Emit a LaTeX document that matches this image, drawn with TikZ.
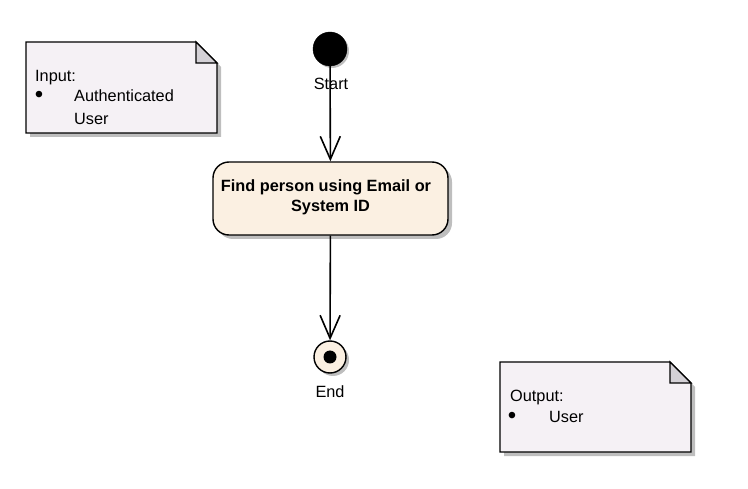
\documentclass[tikz,border=0pt]{standalone}
\usepackage{fontspec}
\setmainfont{Liberation Sans}
\usetikzlibrary{arrows.meta}
\definecolor{notefill}{HTML}{F5F1F5}
\definecolor{foldfill}{HTML}{D4D1D6}
\definecolor{actfill}{HTML}{FBF0E2}
\definecolor{shadowc}{HTML}{BEBEBE}
\tikzset{
  txt/.style={inner sep=0pt, font=\fontsize{16.3}{20}\selectfont, text=black},
  bullettxt/.style={inner sep=0pt, font=\fontsize{24}{24}\selectfont, text=black},
  boldtxt/.style={inner sep=0pt, font=\fontsize{16.3}{20}\selectfont\bfseries, align=center, text=black},
  conn/.style={line width=1.6pt, -{Straight Barb[length=23pt,width=20pt,line width=1.6pt]}},
  outline/.style={draw=black, line width=1.4pt},
}
\begin{document}
\begin{tikzpicture}[x=1pt,y=-1pt]
\useasboundingbox (0,0) rectangle (748,489);
% ---------- Input note ----------
\fill[shadowc] (30,46) -- (200,46) -- (221,67) -- (221,137) -- (30,137) -- cycle;
\filldraw[fill=notefill, outline] (26,42) -- (196,42) -- (217,63) -- (217,133) -- (26,133) -- cycle;
\filldraw[fill=foldfill, outline] (196,42) -- (196,63) -- (217,63) -- cycle;
\node[txt, anchor=base west] (inlab) at (35,82) {Input:};
\node[bullettxt, anchor=center] (inbul) at (39,97) {•};
\node[txt, anchor=base west] (inA) at (74,102) {Authenticated};
\node[txt, anchor=base west] (inU) at (74,125) {User};
% ---------- Output note ----------
\fill[shadowc] (504,366) -- (674,366) -- (695,387) -- (695,456) -- (504,456) -- cycle;
\filldraw[fill=notefill, outline] (500,362) -- (670,362) -- (691,383) -- (691,452) -- (500,452) -- cycle;
\filldraw[fill=foldfill, outline] (670,362) -- (670,383) -- (691,383) -- cycle;
\node[txt, anchor=base west] (outlab) at (510,402) {Output:};
\node[bullettxt, anchor=center] (outbul) at (512,418) {•};
\node[txt, anchor=base west] (outU) at (549,423) {User};
% ---------- Start ----------
\fill[shadowc] (332,51) circle[radius=17];
\node[circle, fill=black, draw=black, minimum size=34pt, inner sep=0pt] (start) at (330,49) {};
% ---------- Action ----------
\fill[shadowc, rounded corners=16pt] (217,166) rectangle (452,239);
\node[rectangle, rounded corners=16pt, fill=actfill, outline, minimum width=235pt, minimum height=73pt, inner sep=0pt] (act) at (330.5,198.5) {};
\node[boldtxt] (acttext) at (330.5,197) {Find person using Email or\hspace*{9pt}\\System ID};
% ---------- End ----------
\fill[shadowc] (333,360) circle[radius=16];
\node[circle, fill=actfill, outline, minimum size=32pt, inner sep=0pt] (end) at (330,357) {};
\node[circle, fill=black, minimum size=13pt, inner sep=0pt] (enddot) at (end.center) {};
% ---------- Connectors ----------
\draw[conn] (start) -- (act);
\draw[conn] (act) -- (end);
% ---------- Labels ----------
\node[txt] (startlab) at (331,84) {Start};
\node[txt] (endlab) at (330,392) {End};
\end{tikzpicture}
\end{document}
